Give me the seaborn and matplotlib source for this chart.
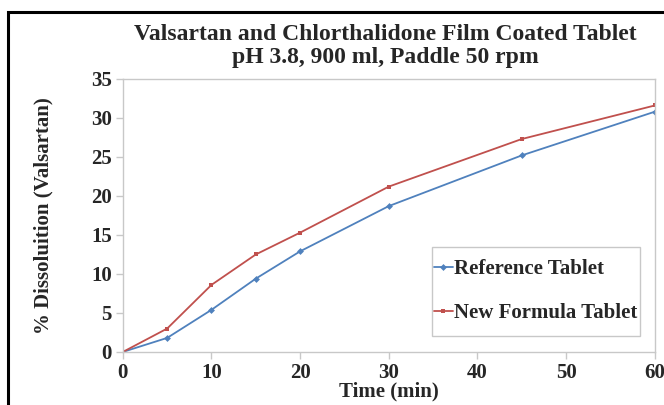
import numpy as np
import pandas as pd
import seaborn as sns
import matplotlib
matplotlib.use("Agg")
import matplotlib.pyplot as plt
from matplotlib.patches import Rectangle

time_min = [0, 5, 10, 15, 20, 30, 45, 60]
reference_tablet = [0, 1.8, 5.4, 9.4, 12.9, 18.7, 25.2, 30.8]
new_formula_tablet = [0, 3.0, 8.6, 12.5, 15.3, 21.2, 27.3, 31.6]
series_names = ["Reference Tablet", "New Formula Tablet"]

df = pd.DataFrame({
    "Time": time_min * 2,
    "Dissolution": reference_tablet + new_formula_tablet,
    "Series": [series_names[0]] * len(time_min) + [series_names[1]] * len(time_min),
})

sns.set_style("white")
plt.rcParams["font.family"] = ["Liberation Serif", "DejaVu Serif"]
plt.rcParams["font.weight"] = "bold"

fig = plt.figure(figsize=(6.64, 4.05), dpi=100)
ax = fig.add_axes([0.185, 0.131, 0.801, 0.674])

palette = {series_names[0]: "#4F81BD", series_names[1]: "#C0504D"}
sns.lineplot(data=df, x="Time", y="Dissolution", hue="Series", style="Series",
             markers={series_names[0]: "D", series_names[1]: "s"}, dashes=False,
             palette=palette, linewidth=1.3, markersize=3.5, markeredgewidth=0,
             ax=ax)

ax.set_xlim(0, 60)
ax.set_ylim(0, 35)
ax.set_xticks(range(0, 61, 10))
ax.set_yticks(range(0, 36, 5))
for s in ax.spines.values():
    s.set_color("#c8c8c8")
    s.set_linewidth(1.0)
ax.tick_params(axis="both", which="both", direction="out", length=5, width=1,
               color="#c8c8c8", labelsize=15, pad=3, bottom=True, left=True)
for lab in ax.get_xticklabels() + ax.get_yticklabels():
    lab.set_fontweight("bold")

ax.set_xlabel("Time (min)", fontsize=15, fontweight="bold", labelpad=-1)
ax.set_ylabel("% Dissoluition (Valsartan)", fontsize=15, fontweight="bold", labelpad=27)

# legend text without its own frame; the frame is drawn separately (taller than wide pad)
leg = ax.legend(loc="center", bbox_to_anchor=(0.776, 0.2216), frameon=False,
                fontsize=15, handlelength=0.9, handletextpad=0.05,
                labelspacing=1.15, borderpad=0.1, borderaxespad=0)
for t in leg.get_texts():
    t.set_fontweight("bold")
ax.add_patch(Rectangle((0.581, 0.0586), 0.391, 0.326, transform=ax.transAxes,
                       fill=False, edgecolor="#c8c8c8", linewidth=1.0, zorder=4))

fig.text(0.58, 0.916, "Valsartan and Chlorthalidone Film Coated Tablet",
         ha="center", va="center", fontsize=17, fontweight="bold")
fig.text(0.58, 0.857, "pH 3.8, 900 ml, Paddle 50 rpm",
         ha="center", va="center", fontsize=17, fontweight="bold")

fig.patches.append(Rectangle((0.012, -0.1), 1.2, 1.07, transform=fig.transFigure,
                             fill=False, edgecolor="black", linewidth=2.2,
                             clip_on=False))

fig.savefig("out.png", dpi=100)
